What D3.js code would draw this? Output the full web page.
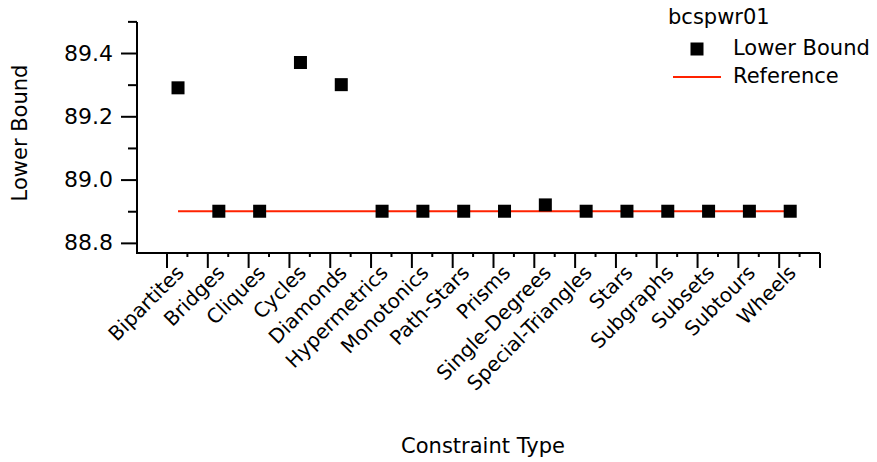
<!DOCTYPE html>
<html lang="en">
<head>
  <meta charset="UTF-8">
  <title>bcspwr01</title>
  <style>
    body { margin: 0; background: #fff; }
    #main { width: 877px; height: 462px; }
    text { font-family: "DejaVu Sans", sans-serif; fill: #000; }
  </style>
</head>
<body>
  <div id="main"></div>
  <script src="https://d3js.org/d3.v7.min.js"></script>
  <script>
    // data
    const categories = ['Bipartites', 'Bridges', 'Cliques', 'Cycles', 'Diamonds', 'Hypermetrics',
      'Monotonics', 'Path-Stars', 'Prisms', 'Single-Degrees', 'Special-Triangles', 'Stars',
      'Subgraphs', 'Subsets', 'Subtours', 'Wheels'];
    const lowerBound = [89.29, 88.90, 88.90, 89.37, 89.30, 88.90, 88.90, 88.90,
      88.90, 88.92, 88.90, 88.90, 88.90, 88.90, 88.90, 88.90];
    const referenceValue = 88.90;
    const yMajorTicks = [88.8, 89.0, 89.2, 89.4];
    const yMinorTicks = [88.9, 89.1, 89.3, 89.5];
    const seriesName = 'bcspwr01';

    const [width, height] = [877, 462];
    const plotLeft = 137, plotRight = 820, plotTop = 22, plotBottom = 253;

    const svg = d3.select('#main').append('svg')
      .attr('width', width)
      .attr('height', height)
      .attr('viewBox', `0 0 ${width} ${height}`);

    // scales
    const x = d3.scaleBand().domain(categories).range([167, plotRight]);
    const bw = x.bandwidth();
    const mx = d => x(d) + bw * 0.27;   // marker position inside the band
    const y = d3.scaleLinear().domain([88.768, 89.498]).range([plotBottom, plotTop]);

    // y axis
    const yAxis = svg.append('g').attr('transform', `translate(${plotLeft},0)`);
    yAxis.call(d3.axisLeft(y).tickValues(yMajorTicks).tickSize(16).tickSizeOuter(0)
      .tickPadding(8).tickFormat(d3.format('.1f')));
    yAxis.append('g').call(d3.axisLeft(y).tickValues(yMinorTicks).tickSize(9)
      .tickSizeOuter(0).tickFormat(''));
    yAxis.selectAll('.domain').remove();
    yAxis.selectAll('line').attr('stroke', '#000').attr('stroke-width', 2);
    yAxis.selectAll('text').style('font-size', '22px').style('font-family', '"DejaVu Sans", sans-serif');

    // x axis (category boundaries + short ticks at band centres)
    const xAxis = svg.append('g');
    const bounds = categories.map(c => x(c)).concat([x.range()[1]]);
    xAxis.append('g').selectAll('line').data(bounds).join('line')
      .attr('x1', d => d).attr('x2', d => d)
      .attr('y1', plotBottom).attr('y2', plotBottom + 15)
      .attr('stroke', '#000').attr('stroke-width', 2);
    xAxis.append('g').selectAll('line').data(categories).join('line')
      .attr('x1', d => x(d) + bw / 2).attr('x2', d => x(d) + bw / 2)
      .attr('y1', plotBottom).attr('y2', plotBottom + 4)
      .attr('stroke', '#000').attr('stroke-width', 2);
    xAxis.append('g').selectAll('text').data(categories).join('text')
      .attr('transform', d => `translate(${x(d) + 18},274) rotate(-45)`)
      .attr('text-anchor', 'end')
      .style('font-size', '20px')
      .text(d => d);

    // axis lines
    svg.append('path')
      .attr('d', `M${plotLeft},${plotTop}V${plotBottom}H${plotRight}`)
      .attr('fill', 'none').attr('stroke', '#000').attr('stroke-width', 2);

    // reference line
    svg.append('line')
      .attr('x1', mx(categories[0])).attr('x2', mx(categories[categories.length - 1]))
      .attr('y1', y(referenceValue)).attr('y2', y(referenceValue))
      .attr('stroke', '#ff2200').attr('stroke-width', 2);

    // markers
    const ms = 13;
    svg.append('g').selectAll('rect').data(categories).join('rect')
      .attr('x', d => mx(d) - ms / 2)
      .attr('y', (d, i) => y(lowerBound[i]) - ms / 2)
      .attr('width', ms).attr('height', ms)
      .attr('fill', '#000');

    // titles
    svg.append('text')
      .attr('transform', `translate(27,133) rotate(-90)`)
      .attr('text-anchor', 'middle')
      .style('font-size', '21px')
      .text('Lower Bound');
    svg.append('text')
      .attr('x', 483).attr('y', 453)
      .attr('text-anchor', 'middle')
      .style('font-size', '21px')
      .text('Constraint Type');

    // legend
    const lg = svg.append('g');
    lg.append('text').attr('x', 668).attr('y', 24).style('font-size', '21px').text(seriesName);
    lg.append('rect').attr('x', 697 - ms / 2).attr('y', 49 - ms / 2)
      .attr('width', ms).attr('height', ms).attr('fill', '#000');
    lg.append('text').attr('x', 733).attr('y', 55).style('font-size', '21px').text('Lower Bound');
    lg.append('line').attr('x1', 673).attr('x2', 721).attr('y1', 77).attr('y2', 77)
      .attr('stroke', '#ff2200').attr('stroke-width', 2);
    lg.append('text').attr('x', 733).attr('y', 83).style('font-size', '21px').text('Reference');
  </script>
</body>
</html>
